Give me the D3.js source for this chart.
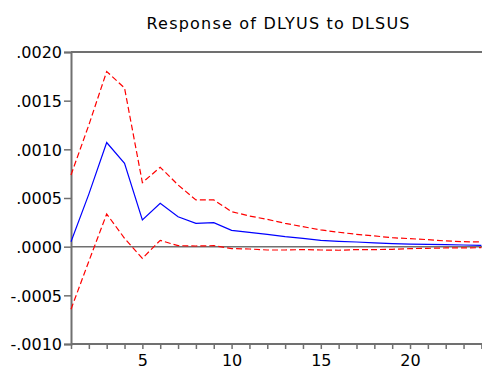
<!DOCTYPE html>
<html>
<head>
<meta charset="utf-8">
<script src="https://cdn.jsdelivr.net/npm/d3@7"></script>
<style>
  html, body { margin: 0; padding: 0; background: #fff; }
  svg { display: block; }
</style>
</head>
<body>
<div id="chart"></div>
<script>
// Impulse response of DLYUS to a DLSUS shock, with +/- 2 S.E. bands
const periods = d3.range(1, 25);
const response = [0.00005, 0.00054, 0.00107, 0.000857, 0.000274, 0.000446, 0.000308, 0.00024,
  0.000247, 0.000168, 0.000147, 0.000127, 0.000103, 0.000086, 0.000065, 0.000055,
  0.000048, 0.000038, 0.000031, 0.000027, 0.000024, 0.00002, 0.000017, 0.000014];
const upperBand = [0.000737, 0.00125, 0.0018, 0.00163, 0.000658, 0.000816, 0.000634, 0.00048,
  0.00048, 0.00036, 0.000315, 0.00028, 0.00024, 0.000205, 0.000172, 0.000148,
  0.000127, 0.00011, 0.000092, 0.000082, 0.000072, 0.000059, 0.000051, 0.000048];
const lowerBand = [-0.000643, -0.00015, 0.000336, 0.000086, -0.00012, 0.000065, 0.00001, 0.000007,
  0.00001, -0.00002, -0.000024, -0.000034, -0.000034, -0.00003, -0.000034, -0.000037,
  -0.00003, -0.00003, -0.000027, -0.00002, -0.000017, -0.000013, -0.000013, -0.00001];
const yTicks = [-0.0010, -0.0005, 0.0000, 0.0005, 0.0010, 0.0015, 0.0020];
const xLabels = [5, 10, 15, 20];
const title = "Response of DLYUS to DLSUS";

const W = 482, H = 370;
const plotLeft = 71, plotTop = 52, plotBottom = 344, plotRight = 484;

const svg = d3.select("#chart").append("svg")
  .attr("width", W).attr("height", H);

const x = d3.scaleLinear().domain([1, 24]).range([plotLeft, 481.4]);
const y = d3.scaleLinear().domain([-0.0010, 0.0020]).range([plotBottom, plotTop]);

const font = "'DejaVu Sans', Verdana, sans-serif";
const axisColor = "#707070";

// title
svg.append("text")
  .attr("x", 278).attr("y", 29)
  .attr("text-anchor", "middle")
  .attr("font-family", font).attr("font-size", 16)
  .attr("textLength", 263).attr("lengthAdjust", "spacing")
  .attr("fill", "#000")
  .text(title);

// frame: top line and right side
svg.append("path")
  .attr("d", `M${plotLeft},${plotTop}H${plotRight}V${plotBottom}`)
  .attr("fill", "none").attr("stroke", axisColor).attr("stroke-width", 2);

// zero line
svg.append("line")
  .attr("x1", plotLeft).attr("x2", plotRight)
  .attr("y1", y(0)).attr("y2", y(0))
  .attr("stroke", axisColor).attr("stroke-width", 1.5);

// y axis: ".0020" style labels with a plain hyphen for negatives
const fmt = v => (v < 0 ? "-" : "") + Math.abs(v).toFixed(4).replace(/^0/, "");
const yAxis = d3.axisLeft(y).tickValues(yTicks).tickFormat(fmt).tickSize(7).tickPadding(2);
const gy = svg.append("g").attr("transform", `translate(${plotLeft},0)`).call(yAxis);
gy.select(".domain").attr("stroke", axisColor).attr("stroke-width", 2);
gy.selectAll(".tick line").attr("stroke", axisColor).attr("stroke-width", 1.5);
gy.selectAll(".tick text").attr("font-family", font).attr("font-size", 16).attr("fill", "#000")
  .attr("dy", "0.36em");

// x axis: tick at every period, labels every five
const xAxis = d3.axisBottom(x).tickValues(periods)
  .tickFormat(d => xLabels.includes(d) ? d : "").tickSize(5).tickPadding(6).tickSizeOuter(0);
const gx = svg.append("g").attr("transform", `translate(0,${plotBottom})`).call(xAxis);
gx.select(".domain").attr("d", `M${plotLeft},0H${plotRight}`)
  .attr("stroke", axisColor).attr("stroke-width", 2);
gx.selectAll(".tick line").attr("stroke", axisColor).attr("stroke-width", 1.5);
gx.selectAll(".tick text").attr("font-family", font).attr("font-size", 16).attr("fill", "#000");

// series
const line = d3.line().x((d, i) => x(periods[i])).y(d => y(d));
svg.append("path").datum(upperBand).attr("d", line)
  .attr("fill", "none").attr("stroke", "#ff0000").attr("stroke-width", 1.2)
  .attr("stroke-dasharray", "6,3");
svg.append("path").datum(lowerBand).attr("d", line)
  .attr("fill", "none").attr("stroke", "#ff0000").attr("stroke-width", 1.2)
  .attr("stroke-dasharray", "6,3");
svg.append("path").datum(response).attr("d", line)
  .attr("fill", "none").attr("stroke", "#0000ff").attr("stroke-width", 1.2);
</script>
</body>
</html>
